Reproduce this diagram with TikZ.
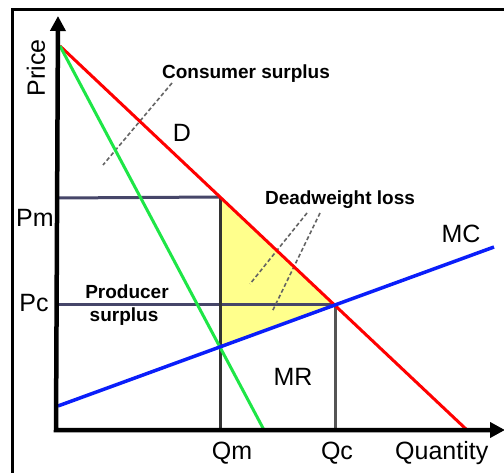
\documentclass[tikz,border=0pt]{standalone}
\usepackage{fontspec}
\setmainfont{Liberation Sans}
\usetikzlibrary{arrows.meta}
\definecolor{dred}{RGB}{255,0,0}
\definecolor{mrgreen}{RGB}{30,230,70}
\definecolor{mcblue}{RGB}{10,30,250}
\definecolor{slate}{RGB}{70,70,105}
\definecolor{dwyellow}{RGB}{255,255,140}
\definecolor{leadgray}{RGB}{100,100,100}
\definecolor{qgray}{RGB}{85,85,85}
\tikzset{
  biglab/.style={font=\fontsize{25}{30}\selectfont, inner sep=0pt},
  smalllab/.style={font=\fontsize{19}{22}\selectfont\bfseries, inner sep=0pt},
  curve/.style={line width=3pt},
  guide/.style={line width=3pt, draw=slate},
  leader/.style={draw=leadgray, line width=1.6pt, dash pattern=on 4pt off 2.5pt},
  axisline/.style={line width=4.5pt, line join=miter}
}
\begin{document}
\begin{tikzpicture}[x=1pt,y=-1pt]
\useasboundingbox (0,0) rectangle (504,473);
\clip (0,0) rectangle (504,473);
\fill[white] (0,0) rectangle (504,473);
% frame
\draw[line width=3pt] (12,10) rectangle (520,490);
% key points
\coordinate (O) at (56,430);
\coordinate (Ytop) at (58,16);
\coordinate (Xend) at (505,430);
\coordinate (Dstart) at (60,46);
\coordinate (Dend) at (467,430);
\coordinate (MRend) at (264,430);
\coordinate (MCstart) at (58,406);
\coordinate (MCend) at (494,247);
\coordinate (A) at (220,197);
\coordinate (B) at (335,305);
\coordinate (C) at (220,347);
\coordinate (PmAx) at (58,198);
\coordinate (PcAx) at (58,305);
\coordinate (QmAx) at (220,430);
\coordinate (QcAx) at (335,430);
\coordinate (csA) at (172,83);
\coordinate (csB) at (103,165);
\coordinate (dwA1) at (307,213);
\coordinate (dwB1) at (250,284);
\coordinate (dwA2) at (320,213);
\coordinate (dwB2) at (272,312);
% deadweight loss triangle
\fill[dwyellow] (A) -- (B) -- (C) -- cycle;
% guides
\draw[guide] (PmAx) -- (A);
\draw[guide] (PcAx) -- (B);
\draw[line width=3pt, draw=black!80] (A) -- (QmAx);
\draw[line width=3pt, draw=qgray] (B) -- (QcAx);
% leaders
\draw[leader] (csA) -- (csB);
\draw[leader] (dwA1) -- (dwB1);
\draw[leader] (dwA2) -- (dwB2);
% curves
\draw[curve, dred] (Dstart) -- (Dend);
\draw[curve, mrgreen] (Dstart) -- (MRend);
\draw[line width=3.5pt, mcblue] (MCstart) -- (MCend);
% axes
\draw[axisline, {Triangle[length=15pt,width=15pt]}-{Triangle[length=15pt,width=15pt]}] (Ytop) -- (O |- Xend) -- (Xend);
% labels
\node[biglab, rotate=90] (price) at (36,68) {Price};
\node[biglab, anchor=base] (dlab) at (182,142) {D};
\node[biglab, anchor=base] (mclab) at (461,243) {MC};
\node[biglab, anchor=base] (mrlab) at (293,385) {MR};
\node[biglab, anchor=base] (pmlab) at (35,227) {Pm};
\node[biglab, anchor=base] (pclab) at (34,312) {Pc};
\node[biglab, anchor=base] (qmlab) at (232,459) {Qm};
\node[biglab, anchor=base] (qclab) at (337,459) {Qc};
\node[biglab, anchor=base west] (qlab) at (395,459) {Quantity};
\node[smalllab, anchor=base] (cslab) at (246,79) {Consumer surplus};
\node[smalllab, anchor=base] (dwlab) at (340,205) {Deadweight loss};
\node[smalllab, anchor=base] (pslab1) at (127,299) {Producer};
\node[smalllab, anchor=base] (pslab2) at (124,322) {surplus};
\end{tikzpicture}
\end{document}
